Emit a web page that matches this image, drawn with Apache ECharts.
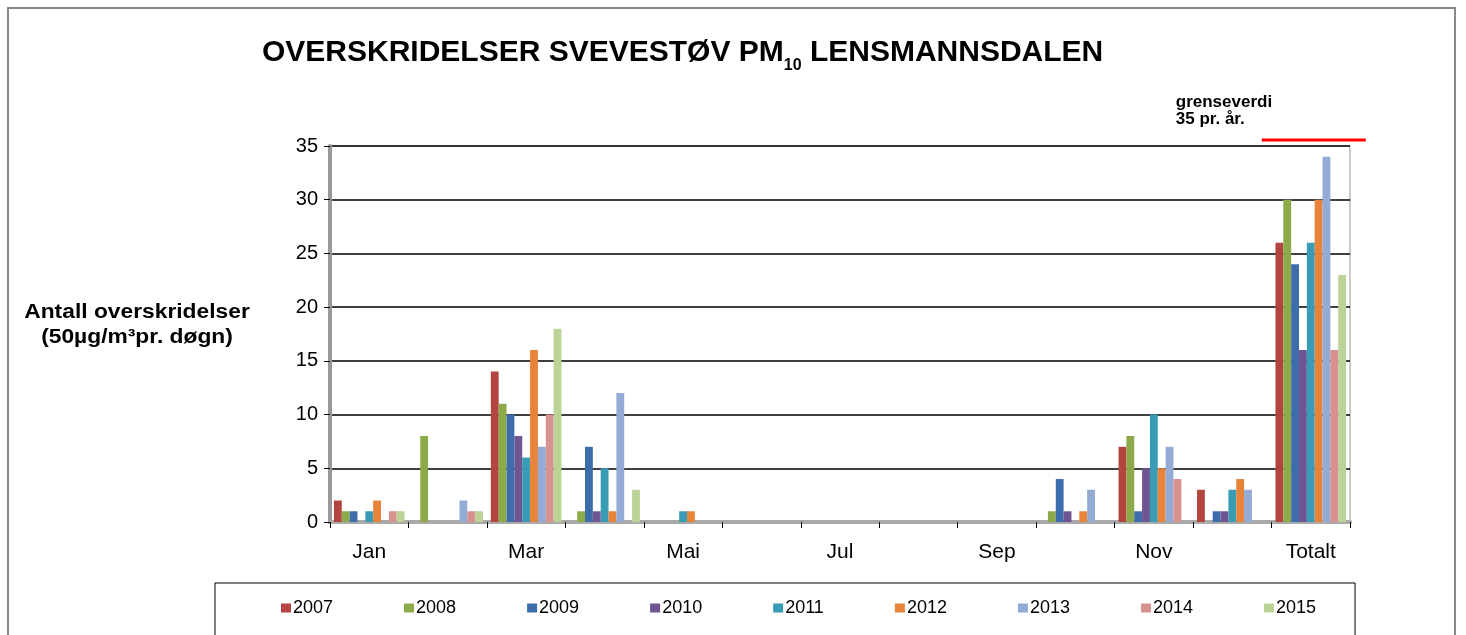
<!DOCTYPE html>
<html>
<head>
<meta charset="utf-8">
<script src="https://cdn.jsdelivr.net/npm/echarts@6/dist/echarts.min.js"></script>
<style>
html,body{margin:0;padding:0;background:#fff;}
#c{width:1466px;height:635px;}
</style>
</head>
<body>
<div id="c"></div>
<script>
const categories = ['Jan','Feb','Mar','Apr','Mai','Jun','Jul','Aug','Sep','Okt','Nov','Des','Totalt'];
const years = ['2007','2008','2009','2010','2011','2012','2013','2014','2015'];
const colors = ['#B4443F','#8CAA48','#3E6DAB','#6F5592','#3A9BB5','#E8843A','#93ABD5','#D7918F','#BCD398'];
const v2007 = [2,0,14,0,0,0,0,0,0,0,7,3,26];
const v2008 = [1,8,11,1,0,0,0,0,0,1,8,0,30];
const v2009 = [1,0,10,7,0,0,0,0,0,4,1,1,24];
const v2010 = [0,0,8,1,0,0,0,0,0,1,5,1,16];
const v2011 = [1,0,6,5,1,0,0,0,0,0,10,3,26];
const v2012 = [2,0,16,1,1,0,0,0,0,1,5,4,30];
const v2013 = [0,2,7,12,0,0,0,0,0,3,7,3,34];
const v2014 = [1,1,10,0,0,0,0,0,0,0,4,0,16];
const v2015 = [1,1,18,3,0,0,0,0,0,0,0,0,23];
const values = [v2007,v2008,v2009,v2010,v2011,v2012,v2013,v2014,v2015];
const yTicks = {min:0, max:35, interval:5};
const limitValue = 35;

const chart = echarts.init(document.getElementById('c'));
const font = '"Liberation Sans", Arial, sans-serif';

const option = {
  animation: false,
  backgroundColor: '#fff',
  title: {
    left: 257, top: 27,
    text: '{a|OVERSKRIDELSER SVEVESTØV PM}{s|10}{a| LENSMANNSDALEN}',
    textStyle: {
      rich: {
        a: {fontFamily: font, fontWeight: 'bold', fontSize: 30, color: '#000', lineHeight: 36, verticalAlign: 'bottom'},
        s: {fontFamily: font, fontWeight: 'bold', fontSize: 16, color: '#000', lineHeight: 36, verticalAlign: 'bottom', padding: [0,0,-6,0]}
      }
    }
  },
  legend: {
    left: 215, top: 583,
    padding: [16, 39, 40, 66],
    itemGap: 71,
    itemWidth: 10, itemHeight: 9,
    icon: 'rect',
    borderColor: '#000', borderWidth: 1,
    textStyle: {fontFamily: font, fontSize: 18, color: '#000', padding: [0,0,0,-3]},
    data: years
  },
  grid: {left: 330, right: 116, top: 146, bottom: 113, show: true, borderColor: '#999', borderWidth: 1},
  xAxis: {
    type: 'category',
    data: categories,
    axisLine: {lineStyle: {color: '#aaa', width: 4}},
    axisTick: {show: true, interval: 0, length: 6, lineStyle: {color: '#000'}},
    axisLabel: {interval: 1, fontFamily: font, fontSize: 21, color: '#000', margin: 20}
  },
  yAxis: {
    type: 'value',
    min: yTicks.min, max: yTicks.max, interval: yTicks.interval,
    axisLine: {show: true, lineStyle: {color: '#999', width: 4}},
    axisTick: {show: true, length: 6, lineStyle: {color: '#000'}},
    axisLabel: {fontFamily: font, fontSize: 20, color: '#000', margin: 12},
    splitLine: {lineStyle: {color: '#000', width: 1.5}}
  },
  series: years.map((y, i) => ({
    name: y,
    type: 'bar',
    data: values[i],
    barGap: '0%',
    barCategoryGap: '10%',
    itemStyle: {color: colors[i]}
  })),
  graphic: []
};
chart.setOption(option);

// annotations positioned through the axes
const yLim = chart.convertToPixel({yAxisIndex: 0}, limitValue);
const xTot = chart.convertToPixel({xAxisIndex: 0}, 'Totalt');
chart.setOption({
  graphic: [
    {type: 'rect', shape: {x: 8, y: 8, width: 1447, height: 640}, style: {fill: null, stroke: '#888', lineWidth: 2}, silent: true},
    {type: 'line', shape: {x1: xTot - 49, y1: yLim - 6, x2: xTot + 55, y2: yLim - 6}, style: {stroke: '#FF0000', lineWidth: 3}},
    {type: 'text', x: xTot - 135, y: yLim - 52, style: {text: 'grenseverdi\n35 pr. år.', font: 'bold 17px "Liberation Sans", Arial, sans-serif', fill: '#000', lineHeight: 17}},
    {type: 'text', x: 137, y: 325, scaleX: 1.14, style: {
      text: 'Antall overskridelser\n(50µg/m³pr. døgn)',
      align: 'center', verticalAlign: 'middle',
      font: 'bold 20px "Liberation Sans", Arial, sans-serif', fill: '#000', lineHeight: 25
    }}
  ]
});
</script>
</body>
</html>
